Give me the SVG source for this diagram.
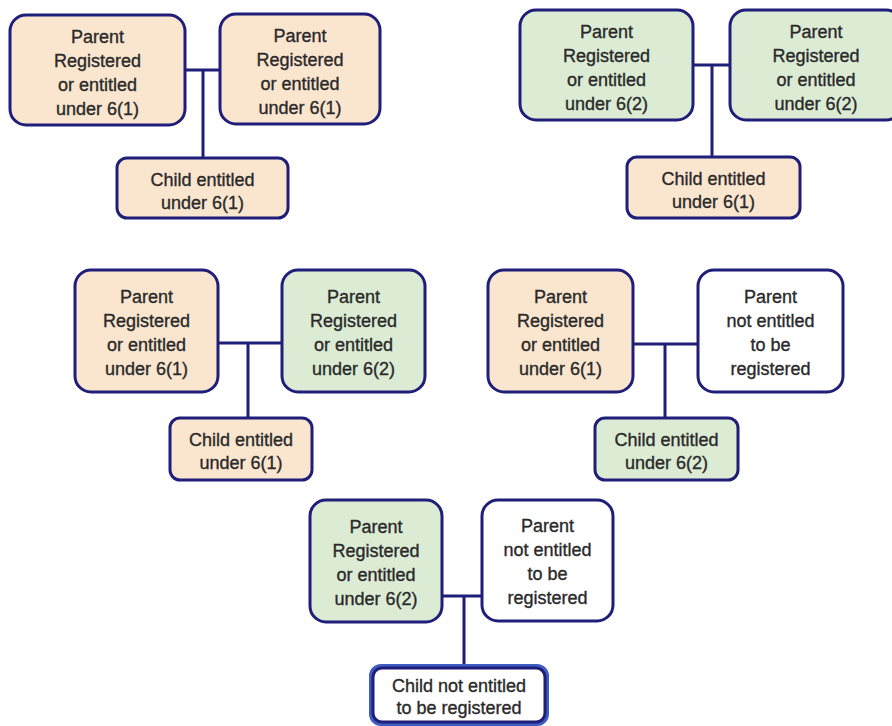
<svg xmlns="http://www.w3.org/2000/svg" width="892" height="726" viewBox="0 0 892 726">
<style>
.box{stroke:#1f1f7a;stroke-width:3}
.b{fill:#fae5cf}
.g{fill:#dcebd4}
.w{fill:#ffffff}
text{font-family:"Liberation Sans",Arial,sans-serif;font-size:18px;fill:#2a2a2a;stroke:#2a2a2a;stroke-width:0.35;text-anchor:middle}
.conn path{stroke:#1f1f7a;stroke-width:3;fill:none}
</style>
<rect width="892" height="726" fill="#ffffff"/>
<g class="conn" id="connectors">
<path d="M185 70 H220 M203 70 V158"/>
<path d="M693 65 H730 M712 65 V157"/>
<path d="M218 343 H282 M248 343 V418"/>
<path d="M633 344 H698 M665 344 V418"/>
<path d="M442 596 H482 M464 596 V667"/>
</g>
<g id="n1a"><rect class="box b" x="10" y="15" width="175" height="110" rx="16"/>
<text><tspan x="97.5" y="43">Parent</tspan><tspan x="97.5" y="67">Registered</tspan><tspan x="97.5" y="91">or entitled</tspan><tspan x="97.5" y="115">under 6(1)</tspan></text></g>
<g id="n1b"><rect class="box b" x="220" y="14" width="160" height="110" rx="16"/>
<text><tspan x="300" y="42">Parent</tspan><tspan x="300" y="66">Registered</tspan><tspan x="300" y="90">or entitled</tspan><tspan x="300" y="114">under 6(1)</tspan></text></g>
<g id="n1c"><rect class="box b" x="117" y="158" width="171" height="60" rx="10"/>
<text><tspan x="202.5" y="186">Child entitled</tspan><tspan x="202.5" y="209">under 6(1)</tspan></text></g>

<g id="n2a"><rect class="box g" x="520" y="10" width="173" height="110" rx="16"/>
<text><tspan x="606.5" y="38">Parent</tspan><tspan x="606.5" y="62">Registered</tspan><tspan x="606.5" y="86">or entitled</tspan><tspan x="606.5" y="110">under 6(2)</tspan></text></g>
<g id="n2b"><rect class="box g" x="730" y="10" width="172" height="110" rx="16"/>
<text><tspan x="816" y="38">Parent</tspan><tspan x="816" y="62">Registered</tspan><tspan x="816" y="86">or entitled</tspan><tspan x="816" y="110">under 6(2)</tspan></text></g>
<g id="n2c"><rect class="box b" x="627" y="157" width="173" height="61" rx="10"/>
<text><tspan x="713.5" y="185">Child entitled</tspan><tspan x="713.5" y="208">under 6(1)</tspan></text></g>

<g id="n3a"><rect class="box b" x="75" y="270" width="143" height="122" rx="16"/>
<text><tspan x="146.5" y="303">Parent</tspan><tspan x="146.5" y="327">Registered</tspan><tspan x="146.5" y="351">or entitled</tspan><tspan x="146.5" y="375">under 6(1)</tspan></text></g>
<g id="n3b"><rect class="box g" x="282" y="270" width="143" height="122" rx="16"/>
<text><tspan x="353.5" y="303">Parent</tspan><tspan x="353.5" y="327">Registered</tspan><tspan x="353.5" y="351">or entitled</tspan><tspan x="353.5" y="375">under 6(2)</tspan></text></g>
<g id="n3c"><rect class="box b" x="170" y="418" width="142" height="62" rx="10"/>
<text><tspan x="241" y="446">Child entitled</tspan><tspan x="241" y="469">under 6(1)</tspan></text></g>

<g id="n4a"><rect class="box b" x="488" y="270" width="145" height="122" rx="16"/>
<text><tspan x="560.5" y="303">Parent</tspan><tspan x="560.5" y="327">Registered</tspan><tspan x="560.5" y="351">or entitled</tspan><tspan x="560.5" y="375">under 6(1)</tspan></text></g>
<g id="n4b"><rect class="box w" x="698" y="270" width="145" height="122" rx="16"/>
<text><tspan x="770.5" y="303">Parent</tspan><tspan x="770.5" y="327">not entitled</tspan><tspan x="770.5" y="351">to be</tspan><tspan x="770.5" y="375">registered</tspan></text></g>
<g id="n4c"><rect class="box g" x="595" y="418" width="143" height="62" rx="10"/>
<text><tspan x="666.5" y="446">Child entitled</tspan><tspan x="666.5" y="469">under 6(2)</tspan></text></g>

<g id="n5a"><rect class="box g" x="310" y="500" width="132" height="122" rx="16"/>
<text><tspan x="376" y="533">Parent</tspan><tspan x="376" y="557">Registered</tspan><tspan x="376" y="581">or entitled</tspan><tspan x="376" y="605">under 6(2)</tspan></text></g>
<g id="n5b"><rect class="box w" x="482" y="500" width="131" height="121" rx="16"/>
<text><tspan x="547.5" y="532">Parent</tspan><tspan x="547.5" y="556">not entitled</tspan><tspan x="547.5" y="580">to be</tspan><tspan x="547.5" y="604">registered</tspan></text></g>
<g id="n5c"><rect x="371" y="666" width="176" height="58" rx="10" fill="none" stroke="#3f5cc0" stroke-width="4"/>
<rect class="box w" x="373" y="668" width="172" height="54" rx="9" stroke-width="2"/>
<text><tspan x="459" y="692">Child not entitled</tspan><tspan x="459" y="714">to be registered</tspan></text></g>
</svg>
